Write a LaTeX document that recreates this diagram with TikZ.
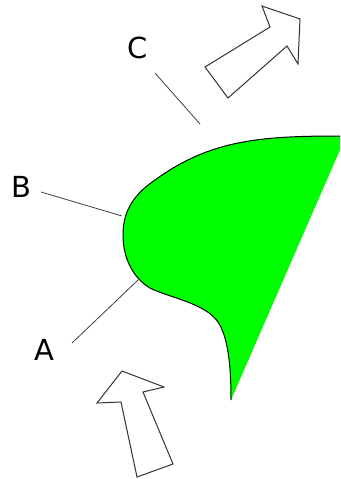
\documentclass[tikz,border=0pt]{standalone}
\usepackage{fontspec}
\setmainfont{DejaVu Sans}
\usepackage{tikz}
\definecolor{leafgreen}{HTML}{00FF00}

\begin{document}
\begin{tikzpicture}[x=1pt, y=-1pt]
	\tikzset{lbl/.style = {inner sep=0pt, font=\fontsize{29}{34}\selectfont},
		leader/.style = {draw=black!75, line width=0.8pt},
		blockarrow/.style = {draw=black!80, line width=1pt, line join=miter, fill=white}}
	\useasboundingbox (0,0) rectangle (340,479);
	% green body
	\fill[leafgreen] (340,136) .. controls (260,136) and (210,140) .. (155,180)
		.. controls (130,197) and (123,215) .. (123,235)
		.. controls (123,258) and (133,278) .. (150,288)
		.. controls (170,298) and (205,303) .. (218,322)
		.. controls (228,337) and (231,365) .. (231,400) -- (340,150) -- cycle;
	\draw[line width=1pt] (340,136) .. controls (260,136) and (210,140) .. (155,180)
		.. controls (130,197) and (123,215) .. (123,235)
		.. controls (123,258) and (133,278) .. (150,288)
		.. controls (170,298) and (205,303) .. (218,322)
		.. controls (228,337) and (231,365) .. (231,400);
	% labels with leader lines
	\foreach \lab/\lx/\ly/\sx/\sy/\ex/\ey in {A/44/350/72/343/138/280, B/21/187/41/192/122/216, C/138/48/155/73/200/124}{
		\node[lbl] (\lab) at (\lx,\ly) {\lab};
		\coordinate (\lab s) at (\sx,\sy);
		\coordinate (\lab e) at (\ex,\ey);
		\draw[leader] (\lab s) -- (\lab e);
	}
	% hollow arrows
	\draw[blockarrow] (262,6) -- (300,19) -- (298,64) -- (287,46) -- (228,98) -- (205,67) -- (270,27) -- cycle;
	\draw[blockarrow] (122,371) -- (164,387) -- (143,392) -- (173,464) -- (137,477) -- (121,402) -- (97,403) -- cycle;
\end{tikzpicture}
\end{document}
